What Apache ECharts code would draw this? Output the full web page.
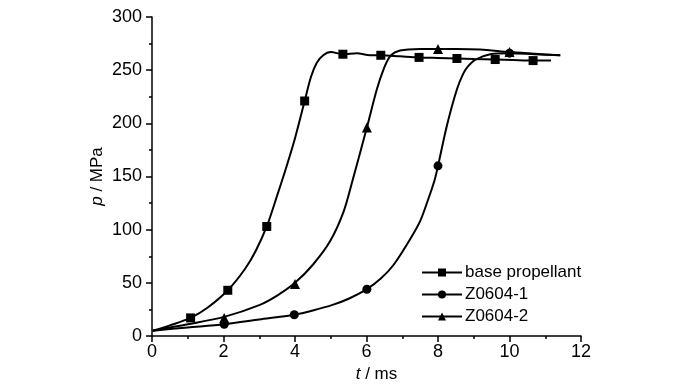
<!DOCTYPE html>
<html>
<head>
<meta charset="utf-8">
<script src="https://cdn.jsdelivr.net/npm/echarts@6/dist/echarts.min.js"></script>
<style>html,body{margin:0;padding:0;background:#fff}#c{width:700px;height:388px}</style>
</head>
<body>
<div id="c"></div>
<script>
// ---- data (t in ms, p in MPa) ----
var seriesNames = ['base propellant', 'Z0604-1', 'Z0604-2'];

var baseT = [0.02,0.5,1.08,1.55,2.12,2.6,2.9,3.21,3.5,3.75,4.0,4.27,4.45,4.61,4.79,5.0,5.34,5.73,6.1,6.4,6.94,7.47,8.0,8.53,9.0,9.6,10.1,10.66,11.16];
var baseP = [5,10,17,26.5,43,63,80,103,132,158,186,221,244,257,264,267,265,266,264,264,263,262,261.5,261,260.5,260,259.5,259,259];

var z1T = [0.02,1.0,2.02,3.0,3.98,4.5,5.07,5.5,6.01,6.4,6.76,7.22,7.5,7.7,7.9,8.0,8.25,8.53,8.71,8.85,9.05,9.46,10.0,10.7,11.42];
var z1P = [5,8,11,15.5,20,24,29.5,35,44,54,67,91,108,126,146,160,198,232,247,254,260,265,266,265,264];

var z2T = [0.02,1.0,2.02,3.0,3.5,4.0,4.5,4.98,5.36,5.6,6.01,6.29,6.48,6.66,6.94,7.5,8.0,8.5,9.18,10.0,10.7,11.42];
var z2P = [5,11,18,29,38,50,67,89,117,145,196,232,251,263,268.5,270,270,270,269.5,267,265.5,264];

// marker points
var baseMarkT = [1.08,2.12,3.21,4.27,5.34,6.40,7.47,8.53,9.60,10.66];
var baseMarkP = [17,43,103,221,265,264,262,261,260,259];
var z1MarkT = [2.02,3.98,6.01,8.0,10.0];
var z1MarkP = [11,20,44,160,266];
var z2MarkT = [2.02,4.0,6.01,8.0,10.0];
var z2MarkP = [17,49,196,270,267];

// axis ticks
var xTicks = [0,2,4,6,8,10,12];
var yTicks = [0,50,100,150,200,250,300];

function zip(a, b) { return a.map(function (v, i) { return [v, b[i]]; }); }

var FONT = "'Liberation Sans', Arial, sans-serif";
var symbols = ['rect', 'circle', 'triangle'];
var symSizes = [9, 9, 10];
var curves = [zip(baseT, baseP), zip(z1T, z1P), zip(z2T, z2P)];
var marks = [zip(baseMarkT, baseMarkP), zip(z1MarkT, z1MarkP), zip(z2MarkT, z2MarkP)];

var series = [];
for (var i = 0; i < 3; i++) {
  series.push({
    name: seriesNames[i], type: 'line', data: curves[i],
    showSymbol: false, symbol: symbols[i], symbolSize: symSizes[i],
    smooth: 0.3,
    lineStyle: { color: '#000', width: 2 },
    itemStyle: { color: '#000', opacity: 1 },
    z: 2, animation: false
  });
}
for (var j = 0; j < 3; j++) {
  series.push({
    name: seriesNames[j], type: 'scatter', data: marks[j],
    symbol: symbols[j], symbolSize: symSizes[j],
    itemStyle: { color: '#000', opacity: 1 }, z: 3, animation: false
  });
}

var chart = echarts.init(document.getElementById('c'), null, { renderer: 'canvas' });
chart.setOption({
  backgroundColor: '#fff',
  animation: false,
  grid: { left: 152, right: 119, top: 17, bottom: 50, containLabel: false },
  legend: {
    data: seriesNames,
    orient: 'vertical', left: 416, top: 259,
    itemWidth: 40, itemHeight: 10, itemGap: 5,
    textStyle: { fontFamily: FONT, fontSize: 17, color: '#000', padding: [0, 0, 0, -2] },
    selectedMode: false
  },
  xAxis: {
    type: 'value', min: 0, max: 12, interval: 2,
    name: '{i|t} / ms', nameLocation: 'middle', nameGap: 30, nameMoveOverlap: false,
    nameTextStyle: { fontFamily: FONT, fontSize: 17, color: '#000', padding: [0, 0, 0, 20],
      rich: { i: { fontStyle: 'italic', fontFamily: FONT, fontSize: 17, color: '#000' } } },
    axisLine: { lineStyle: { color: '#000', width: 1.5 } },
    axisTick: { inside: false, length: 6, lineStyle: { color: '#000', width: 1.5 } },
    minorTick: { show: true, splitNumber: 2, length: 3, lineStyle: { color: '#000', width: 1.5 } },
    axisLabel: { fontFamily: FONT, fontSize: 18, color: '#000', margin: 7,
      formatter: function (v) { return xTicks.indexOf(v) >= 0 ? String(v) : ''; } },
    splitLine: { show: false }
  },
  yAxis: {
    type: 'value', min: 0, max: 300, interval: 50,
    name: '{i|p} / MPa', nameLocation: 'middle', nameGap: 46, nameRotate: 90, nameMoveOverlap: false,
    nameTextStyle: { fontFamily: FONT, fontSize: 17, color: '#000',
      rich: { i: { fontStyle: 'italic', fontFamily: FONT, fontSize: 17, color: '#000' } } },
    axisLine: { show: true, lineStyle: { color: '#000', width: 1.5 } },
    axisTick: { show: true, inside: false, length: 6, lineStyle: { color: '#000', width: 1.5 } },
    minorTick: { show: true, splitNumber: 2, length: 3, lineStyle: { color: '#000', width: 1.5 } },
    axisLabel: { fontFamily: FONT, fontSize: 18, color: '#000', margin: 10,
      formatter: function (v) { return yTicks.indexOf(v) >= 0 ? String(v) : ''; } },
    splitLine: { show: false }
  },
  series: series
});
</script>
</body>
</html>
